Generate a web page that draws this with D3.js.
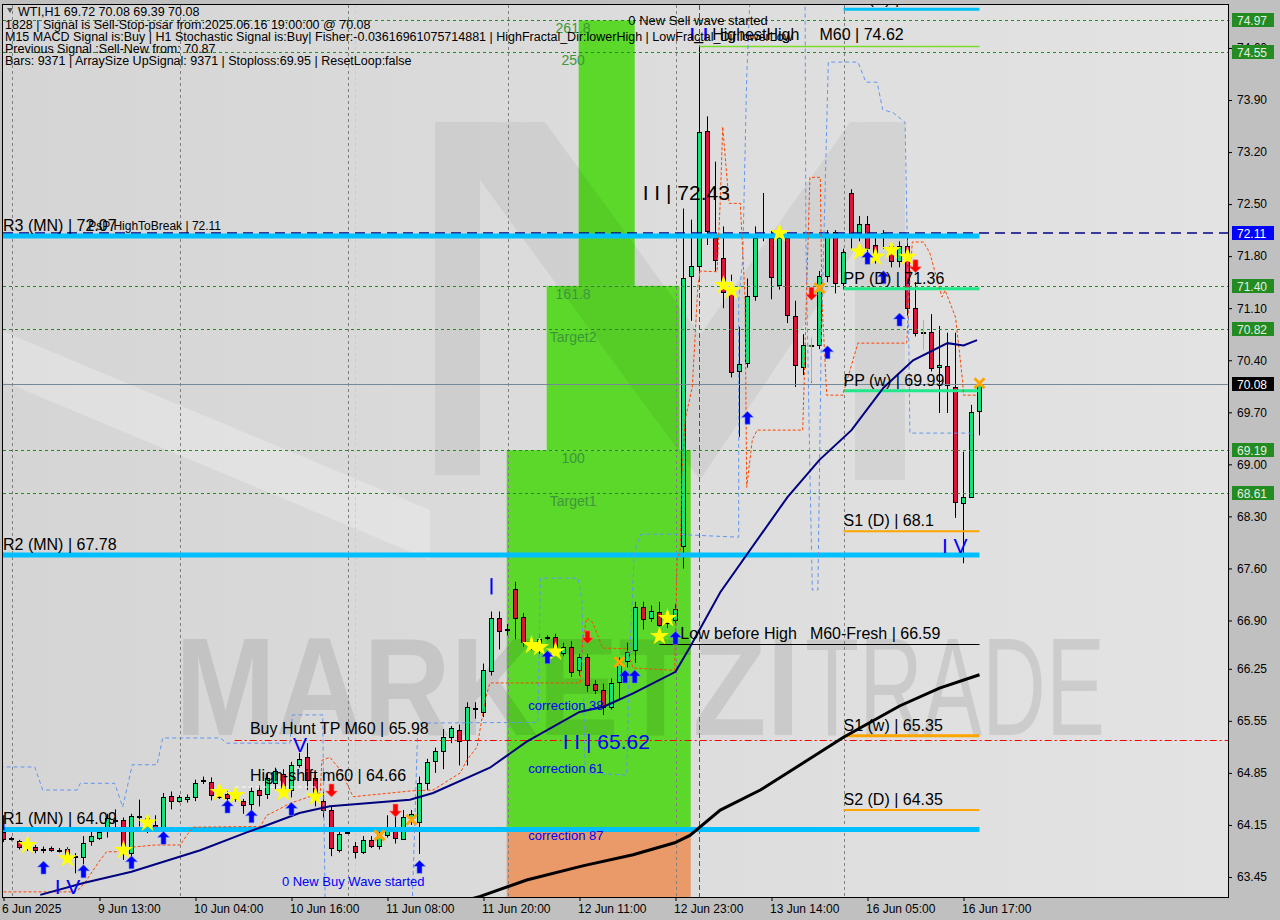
<!DOCTYPE html>
<html><head><meta charset="utf-8">
<script src="https://cdn.jsdelivr.net/npm/d3@7/dist/d3.min.js"></script>
<style>
html,body{margin:0;padding:0;background:#c0c0c0;}
svg{display:block;font-family:"Liberation Sans",Arial,sans-serif;}
</style></head><body>
<svg id="chart" width="1280" height="920"></svg>
<script>
// ---------------- DATA ----------------
const openP = [64.05,63.96,63.93,63.85,63.86,63.82,63.84,63.81,63.83,63.73,63.72,63.93,63.98,64.06,64.22,64.22,63.77,64.27,64.25,64.15,
64.11,64.54,64.47,64.50,64.53,64.75,64.73,64.56,64.56,64.51,64.47,64.44,64.62,64.56,64.71,64.83,64.62,64.96,65.06,64.78,
64.47,64.35,63.81,64.05,63.87,63.79,63.95,63.87,64.01,64.08,63.97,64.24,64.20,64.72,65.00,65.14,65.33,65.43,65.29,65.72,
65.67,66.23,66.94,66.78,67.32,66.95,66.58,66.60,66.68,66.68,66.47,66.55,66.23,66.41,66.04,65.97,65.74,66.07,66.35,66.50,
67.08,66.94,67.02,66.86,66.90,67.91,71.53,71.67,73.48,72.04,71.78,71.32,70.26,70.36,71.26,72.08,72.04,71.42,72.04,71.00,
70.31,70.60,70.60,71.53,72.12,71.43,72.65,72.11,72.23,71.95,72.11,71.93,71.73,71.94,71.10,70.77,70.78,70.31,70.32,70.04,
68.48,68.56,69.72];
const highP = [64.12,63.99,63.95,63.88,63.88,63.86,63.86,63.84,63.85,63.77,64.00,64.09,64.12,64.30,64.36,64.25,64.30,64.49,64.28,64.28,
64.58,64.60,64.55,64.56,64.76,64.80,64.79,64.60,64.60,64.55,64.50,64.66,64.68,64.85,64.92,64.90,65.00,65.12,65.25,64.85,
64.60,64.40,64.10,64.07,63.92,64.00,64.00,64.08,64.28,64.28,64.35,64.35,64.80,65.04,65.19,65.44,65.48,65.50,65.80,65.80,
66.32,67.02,67.02,66.85,67.42,67.00,66.68,66.72,66.70,66.72,66.60,66.62,66.45,66.45,66.10,66.05,66.12,66.40,66.60,67.15,
67.15,67.10,67.15,67.05,67.12,72.44,72.29,74.62,73.68,73.07,72.20,71.55,70.85,71.50,72.20,72.65,72.15,72.20,72.10,71.20,
70.75,70.70,71.60,72.15,72.15,71.90,72.70,72.34,72.34,72.10,72.15,72.00,72.00,72.10,71.45,70.85,71.02,70.86,70.77,70.77,
69.17,69.80,70.08];
const lowP = [63.92,63.94,63.82,63.80,63.77,63.77,63.79,63.78,63.68,63.50,63.62,63.87,63.95,63.98,64.12,63.68,63.70,64.13,64.04,64.10,
64.08,64.36,64.45,64.45,64.47,64.70,64.48,64.50,64.45,64.46,64.30,64.35,64.40,64.50,64.62,64.55,64.52,64.92,64.62,64.40,
64.25,63.73,63.78,64.03,63.70,63.76,63.84,63.82,63.98,63.90,63.95,64.15,63.76,64.62,64.85,64.90,65.25,64.95,64.95,65.58,
65.60,66.16,66.51,66.70,66.65,66.55,66.50,66.45,66.64,66.45,66.42,66.14,66.16,65.94,65.91,65.63,65.70,65.85,66.27,66.33,
66.78,66.88,66.80,66.80,66.86,67.60,70.93,71.60,71.95,71.60,71.10,70.17,69.37,70.30,71.20,72.00,71.22,71.35,70.90,70.04,
70.20,70.10,70.55,71.45,71.30,71.35,71.90,72.00,71.76,71.70,71.90,71.65,71.65,71.00,70.72,70.70,70.25,69.69,69.69,68.28,
67.67,68.55,69.39];
const closeP = [63.95,63.97,63.85,63.84,63.82,63.82,63.81,63.81,63.72,63.72,63.91,64.00,64.06,64.24,64.22,63.77,64.27,64.27,64.24,64.11,
64.53,64.47,64.53,64.53,64.72,64.75,64.55,64.52,64.51,64.51,64.42,64.61,64.55,64.78,64.87,64.62,64.96,65.04,64.75,64.49,
64.35,63.84,64.03,64.05,63.79,63.95,63.87,64.04,64.08,63.97,64.26,64.30,64.72,65.00,65.14,65.33,65.45,65.28,65.74,65.71,
66.23,66.94,66.76,66.76,66.93,66.61,66.62,66.65,66.68,66.48,66.55,66.22,66.41,66.03,65.96,65.74,66.06,66.31,66.47,67.08,
66.92,67.03,66.84,66.97,67.05,71.51,71.67,73.47,72.13,71.75,71.32,70.24,70.35,71.26,72.04,72.10,71.52,72.05,71.00,70.34,
70.60,70.60,71.53,72.10,71.43,71.85,72.11,72.23,71.91,71.79,72.10,71.73,71.93,71.10,70.77,70.78,70.30,70.34,70.07,68.49,
68.56,69.70,70.08];

const yTickValues = [74.60,73.90,73.20,72.50,71.80,71.10,70.40,69.70,69.00,68.30,67.60,66.90,66.25,65.55,64.85,64.15,63.45];
const timeTickBars = [0,12,24,36,48,60,72,84,96,108,120];
const timeTickLabels = ["6 Jun 2025","9 Jun 13:00","10 Jun 04:00","10 Jun 16:00","11 Jun 08:00","11 Jun 20:00",
  "12 Jun 11:00","12 Jun 23:00","13 Jun 14:00","16 Jun 05:00","16 Jun 17:00"];

// indicator lines: [bar, price]
const maFast = [[4.6,63.21],[10,63.37],[16,63.52],[24.6,63.81],[30.4,64.05],[33,64.15],[37,64.31],[40.8,64.40],[50.8,64.49],
  [53.7,64.58],[60.8,64.92],[65.4,65.27],[72,65.67],[75,65.74],[78.7,65.92],[84,66.21],[85.8,66.54],[89.6,67.28],[98,68.56],
  [102,69.06],[106,69.46],[110,70.03],[113.7,70.40],[118,70.63],[120,70.60],[121.7,70.67]];
const maSlow = [[55,63.05],[59.6,63.19],[65.4,63.41],[72.4,63.60],[78.7,63.75],[83.9,63.91],[85.8,64.01],[89.6,64.35],
  [94.6,64.62],[99.6,64.96],[105,65.33],[112,65.75],[117,65.99],[122,66.17]];
const trailStop = [[0,63.25],[8.9,63.25],[9.6,63.30],[10.4,63.41],[11.2,63.54],[12.1,63.68],[12.9,63.79],[14.2,63.79],[14.9,63.84],
  [18.9,63.88],[22.1,63.88],[22.9,64.01],[23.7,64.12],[32.1,64.13],[32.9,64.28],[33.7,64.32],[35.8,64.44],[39.6,64.58],[39.8,65.02],
  [40.8,65.06],[42.1,64.89],[43.7,64.53],[51.2,64.61],[53.7,64.62],[57.1,64.85],[57.9,65.02],[59.2,65.20],[60.2,65.83],[60.8,66.06],
  [72.1,66.06],[72.4,66.64],[72.9,66.93],[73.6,66.88],[74.9,66.53],[77.9,66.52],[78.7,66.26],[83.9,66.23],[84.2,67.71],[84.6,67.85],
  [84.8,68.86],[85.2,69.60],[86.1,70.04],[86.8,71.40],[87.1,71.60],[89.2,71.59],[89.6,72.56],[89.9,73.54],[90.7,72.51],[92.1,72.51],
  [92.7,71.21],[92.9,68.69],[93.6,69.33],[94.2,69.46],[99.9,69.46],[100.1,70.17],[100.4,71.38],[100.8,72.86],[102.1,72.86],
  [102.3,71.21],[102.9,69.93],[104.9,69.93],[106.8,70.63],[112.9,70.63],[113.3,71.48],[113.6,71.99],[115,71.99],[115.8,71.84],
  [117.3,71.25],[117.7,71.34],[119,70.98],[119.9,70.11],[120,69.93],[121.8,69.93]];
const fractalBandA = [[-0.5,64.93],[3.9,64.93],[4.9,64.62],[9.2,64.62],[9.6,64.71],[13.9,64.71],[14.9,64.39],[16.1,64.96],[19.2,64.96],
  [19.9,65.32],[27.1,65.32],[27.9,65.25],[35.8,65.25],[36.1,65.63],[39.9,65.63],[40.2,63.10]];
const fractalBandB = [[51.1,63.10],[51.8,65.52],[66.8,65.53],[67.1,67.47],[71.8,67.47],[72.3,67.18],[72.7,64.85],[77.9,64.82],
  [78.2,66.23],[78.8,67.71],[79.1,67.91],[79.7,68.06],[83.7,68.06],[91.9,68.02],[91.9,71.21],[92.4,71.75],[92.9,74.21],[93.3,75.25]];
const fractalBandC = [[100.2,75.25],[100.3,72.02],[100.8,68.92],[101.1,67.31],[101.8,67.31],[102.2,70.54],[103.1,74.41],[106.8,74.41],
  [107.8,74.14],[109.2,74.14],[109.9,73.77],[111.2,73.73],[112.7,73.60],[113.1,71.21],[113.3,69.42],[120.8,69.42],[121,69.33]];

// markers: [bar, price]
const starMarks = [[3,63.88],[8,63.70],[15,63.81],[18,64.18],[27,64.59],[29,64.55],[35,64.59],[39,64.53],[66,66.57],[67,66.54],
  [69,66.48],[82,66.69],[83,66.93],[90,71.41],[91,71.34],[97,72.11],[107,71.86],[109,71.79],[111,71.88],[113,71.79]];
const buyArrows = [[5,63.57],[10,63.52],[16,63.64],[20,63.97],[28,64.39],[31,64.26],[36,64.36],[52,63.58],[68,66.40],[77.7,66.14],
  [78.9,66.14],[84,66.66],[93,69.62],[103,70.50],[108,71.77],[110,71.51],[112,70.94]];
const sellArrows = [[41,64.62],[49,64.35],[73,66.68],[101,71.30],[114,71.67]];
const crossMarks = [[47,64.01],[51,64.22],[77,66.34],[102,71.37],[122,70.09]];
const greenTicks = [[101,70.70,70.11,70.59],[115,70.94,70.54,70.80]];

// levels
const greenDashLevels = [74.97,74.55,71.40,70.82,69.19,68.61];
const monthlyNames = ["R3 (MN)","R2 (MN)","R1 (MN)"];
const monthlyValues = [72.07,67.78,64.09];
const pivotNames = ["R1 (D)","PP (D)","PP (w)","S1 (D)","S1 (w)","S2 (D)"];
const pivotValues = [75.12,71.36,69.99,68.1,65.35,64.35];
const pivotColors = ["#00bfff","#1ee88a","#1ee88a","#ffa500","#ffa500","#ffa500"];
const pivotWidths = [3,3,3,2,3,2];
const lastPrice = 70.08, psarBreak = 72.11, highestHigh = 74.62, lowBeforeHigh = 66.59;
const buyHuntTP = 65.98, buyHuntLine = 65.29, highShift = 64.66;

// fib target zones: [barStart, barEnd, priceLow, priceHigh]
const zoneGreen = [[62.9,85.9,64.11,69.19],[67.9,84.5,69.19,71.40],[71.9,78.9,71.40,74.97]];
const zoneOrange = [[62.9,85.9,62.0,64.11]];
const fibNames = ["261.8","250","161.8","Target2","100","Target1"];
const fibLevels = [74.97,74.55,71.40,70.82,69.19,68.61];
const corrNames = ["correction 38","correction 61","correction 87"];
const corrPrices = [65.70,64.85,63.95];

const gridBars = [1,22,43,63,84,105];
const axisHighlights = [[74.97,"#228b22","#e4f0e4"],[74.55,"#228b22","#e4f0e4"],[72.11,"#0000ff","#ffffff"],[71.40,"#228b22","#e4f0e4"],
  [70.82,"#228b22","#e4f0e4"],[70.08,"#000000","#ffffff"],[69.19,"#228b22","#e4f0e4"],[68.61,"#228b22","#e4f0e4"]];

const headerLines = ["WTI,H1  69.72 70.08 69.39 70.08",
 "1828 | Signal is Sell-Stop-psar from:2025.06.16 19:00:00 @ 70.08",
 "M15 MACD Signal is:Buy | H1 Stochastic Signal is:Buy| Fisher:-0.03616961075714881 | HighFractal_Dir:lowerHigh | LowFractal_Dir:lowerLow",
 "Previous Signal :Sell-New from: 70.87",
 "Bars: 9371 | ArraySize UpSignal: 9371 | Stoploss:69.95 | ResetLoop:false"];

// ---------------- DRAW ----------------
const svg = d3.select("#chart");
const P = {l:3, t:5, r:1228, b:897};
const x = d3.scaleLinear().domain([0,153]).range([3.5,1227.5]);
const y = d3.scaleLinear().domain([63.45,73.90]).range([877,100]);

const defs = svg.append("defs");
defs.append("clipPath").attr("id","clip").append("rect")
  .attr("x",P.l).attr("y",P.t).attr("width",P.r-P.l).attr("height",P.b-P.t);
const lg = defs.append("linearGradient").attr("id","bg").attr("x1","0").attr("x2","1").attr("y1","0").attr("y2","0");
lg.append("stop").attr("offset","0").attr("stop-color","#d5d5d5");
lg.append("stop").attr("offset","1").attr("stop-color","#e3e3e3");

svg.append("rect").attr("width",1280).attr("height",920).attr("fill","#c0c0c0");
svg.append("rect").attr("x",P.l).attr("y",P.t).attr("width",P.r-P.l).attr("height",P.b-P.t).attr("fill","url(#bg)");

const g = svg.append("g").attr("clip-path","url(#clip)");

// zones
g.selectAll("rect.zg").data(zoneGreen).join("rect").attr("class","zg")
  .attr("x",d=>x(d[0])).attr("width",d=>x(d[1])-x(d[0]))
  .attr("y",d=>y(d[3])).attr("height",d=>y(d[2])-y(d[3])).attr("fill","#5bd82a");
g.selectAll("rect.zo").data(zoneOrange).join("rect").attr("class","zo")
  .attr("x",d=>x(d[0])).attr("width",d=>x(d[1])-x(d[0]))
  .attr("y",d=>y(d[3])).attr("height",d=>y(d[2])-y(d[3])).attr("fill","#e99a68");

// decorative logo watermark
const logo = [[435,122],[545,122],[700,335],[850,122],[905,122],[905,480],[855,480],[855,250],[700,480],[480,180],[480,475],[435,475]];
g.append("path").attr("d",d3.line()(logo)+"Z").attr("fill","rgba(0,0,0,0.05)");
g.append("path").attr("d",d3.line()([[0,330],[0,380],[430,560],[430,510]])+"Z").attr("fill","rgba(255,255,255,0.25)");
g.append("text").attr("x",175).attr("y",735).attr("font-size",140).attr("font-weight","bold")
  .attr("textLength",625).attr("lengthAdjust","spacingAndGlyphs").attr("fill","rgba(0,0,0,0.09)").text("MARKETZI");
g.append("text").attr("x",805).attr("y",735).attr("font-size",140).attr("font-weight","normal")
  .attr("textLength",300).attr("lengthAdjust","spacingAndGlyphs").attr("fill","rgba(0,0,0,0.09)").text("TRADE");

// fib labels
g.selectAll("text.fib").data(fibNames).join("text").attr("class","fib")
  .attr("x",x(71.2)).attr("y",(d,i)=>y(fibLevels[i])+13).attr("text-anchor","middle")
  .attr("font-size",14).attr("fill","#3c963c").text(d=>d);

// grid verticals
g.selectAll("line.vg").data(gridBars).join("line").attr("class","vg")
  .attr("x1",d=>Math.round(x(d))+0.5).attr("x2",d=>Math.round(x(d))+0.5).attr("y1",P.t).attr("y2",P.b)
  .attr("stroke","#808080").attr("stroke-dasharray","3,3");
g.append("line").attr("x1",x(44)).attr("x2",x(44)).attr("y1",P.t).attr("y2",P.b)
  .attr("stroke","#a8d8ea").attr("stroke-dasharray","3,3");
g.append("line").attr("x1",x(87)).attr("x2",x(87)).attr("y1",P.t).attr("y2",P.b)
  .attr("stroke","#dc143c").attr("stroke-dasharray","5,3");

// candles
const candles = d3.range(openP.length).map(i=>({i,o:openP[i],h:highP[i],l:lowP[i],c:closeP[i]}));
g.selectAll("line.wick").data(candles).join("line").attr("class","wick")
  .attr("x1",d=>x(d.i)).attr("x2",d=>x(d.i)).attr("y1",d=>y(d.h)).attr("y2",d=>y(d.l)).attr("stroke","#000");
g.selectAll("rect.body").data(candles).join("rect").attr("class","body")
  .attr("x",d=>x(d.i)-2).attr("width",4)
  .attr("y",d=>Math.round(y(Math.max(d.o,d.c)))+0.5)
  .attr("height",d=>Math.max(1,Math.round(Math.abs(y(d.o)-y(d.c)))))
  .attr("fill",d=>d.c>=d.o?"#14e27a":"#dc143c").attr("stroke","#000");

// green dashed levels
g.selectAll("line.gd").data(greenDashLevels).join("line").attr("class","gd")
  .attr("x1",P.l).attr("x2",P.r).attr("y1",d=>Math.round(y(d))+0.5).attr("y2",d=>Math.round(y(d))+0.5)
  .attr("stroke","#228b22").attr("stroke-dasharray","3,3");
// last price line
g.append("line").attr("x1",P.l).attr("x2",P.r).attr("y1",Math.round(y(lastPrice))+0.5).attr("y2",Math.round(y(lastPrice))+0.5)
  .attr("stroke","#778899");
// psar high to break
g.append("line").attr("x1",P.l).attr("x2",P.r).attr("y1",y(psarBreak)).attr("y2",y(psarBreak))
  .attr("stroke","#00008b").attr("stroke-width",1.5).attr("stroke-dasharray","10,6");
// monthly lines
g.selectAll("line.mn").data(monthlyValues).join("line").attr("class","mn")
  .attr("x1",P.l).attr("x2",x(122)).attr("y1",d=>y(d)).attr("y2",d=>y(d))
  .attr("stroke","#00bfff").attr("stroke-width",5);
// pivots
g.selectAll("line.pv").data(pivotValues).join("line").attr("class","pv")
  .attr("x1",x(105)).attr("x2",x(122)).attr("y1",d=>y(d)).attr("y2",d=>y(d))
  .attr("stroke",(d,i)=>pivotColors[i]).attr("stroke-width",(d,i)=>pivotWidths[i]);
// highest high, low before high, buy hunt, high shift
g.append("line").attr("x1",x(87)).attr("x2",x(122)).attr("y1",y(highestHigh)).attr("y2",y(highestHigh))
  .attr("stroke","#7cdc2c").attr("stroke-width",1.5);
g.append("line").attr("x1",x(82)).attr("x2",x(122)).attr("y1",Math.round(y(lowBeforeHigh))+0.5).attr("y2",Math.round(y(lowBeforeHigh))+0.5)
  .attr("stroke","#000");
g.append("line").attr("x1",x(28.9)).attr("x2",P.r).attr("y1",Math.round(y(buyHuntLine))+0.5).attr("y2",Math.round(y(buyHuntLine))+0.5)
  .attr("stroke","#ff0000").attr("stroke-dasharray","7,3,2,3");
g.append("line").attr("x1",x(28.9)).attr("x2",x(39)).attr("y1",y(highShift)).attr("y2",y(highShift))
  .attr("stroke","#ffffff").attr("stroke-dasharray","4,3");

// indicator lines
const ln = d3.line().x(d=>x(d[0])).y(d=>y(d[1]));
[fractalBandA,fractalBandB,fractalBandC].forEach(s=>{
  g.append("path").attr("d",ln(s)).attr("fill","none").attr("stroke","#6495ed").attr("stroke-dasharray","4,3");
});
g.append("path").attr("d",ln(trailStop)).attr("fill","none").attr("stroke","#ff4500").attr("stroke-dasharray","3,2");
g.append("path").attr("d",ln(maSlow)).attr("fill","none").attr("stroke","#000").attr("stroke-width",3);
g.append("path").attr("d",ln(maFast)).attr("fill","none").attr("stroke","#000080").attr("stroke-width",2);

// green ticks
greenTicks.forEach(t=>{
  g.append("line").attr("x1",x(t[0])).attr("x2",x(t[0])).attr("y1",y(t[1])).attr("y2",y(t[2])).attr("stroke","#7ad84a");
  g.append("line").attr("x1",x(t[0])-3).attr("x2",x(t[0])).attr("y1",y(t[3])).attr("y2",y(t[3])).attr("stroke","#7ad84a");
});

// markers
const star = d3.symbol(d3.symbolStar).size(115);
g.selectAll("path.star").data(starMarks).join("path").attr("class","star")
  .attr("transform",d=>`translate(${x(d[0])},${y(d[1])})`).attr("d",star).attr("fill","#ffff00");
const upArrow = "M0,-7L6,-1L2.5,-1L2.5,6L-2.5,6L-2.5,-1L-6,-1Z";
g.selectAll("path.ua").data(buyArrows).join("path").attr("class","ua")
  .attr("transform",d=>`translate(${x(d[0])},${y(d[1])})`).attr("d",upArrow)
  .attr("fill","#0000ff").attr("stroke","#6a8cff").attr("stroke-width",0.6);
g.selectAll("path.da").data(sellArrows).join("path").attr("class","da")
  .attr("transform",d=>`translate(${x(d[0])},${y(d[1])}) scale(1,-1)`).attr("d",upArrow)
  .attr("fill","#ff0000").attr("stroke","#ff8080").attr("stroke-width",0.6);
g.selectAll("path.xm").data(crossMarks).join("path").attr("class","xm")
  .attr("transform",d=>`translate(${x(d[0])},${y(d[1])})`).attr("d","M-5,-5L5,5M-5,5L5,-5")
  .attr("stroke","#ffa500").attr("stroke-width",3);

// blue I marks
g.append("line").attr("x1",x(0)).attr("x2",x(0)).attr("y1",y(64.28)).attr("y2",y(64.08)).attr("stroke","#0000ff").attr("stroke-width",2);
g.append("line").attr("x1",x(61)).attr("x2",x(61)).attr("y1",y(67.47)).attr("y2",y(67.25)).attr("stroke","#0000ff").attr("stroke-width",2);

// texts
const T = (txt,bx,py,size,color,anchor)=>g.append("text").attr("x",x(bx)).attr("y",y(py))
   .attr("font-size",size).attr("fill",color||"#000").attr("text-anchor",anchor||"start").text(txt);
g.selectAll("text.mn").data(monthlyValues).join("text").attr("class","mn")
  .attr("x",P.l).attr("y",d=>y(d)-5).attr("font-size",16).text((d,i)=>`${monthlyNames[i]} | ${d.toFixed(2)}`);
g.selectAll("text.pv").data(pivotValues).join("text").attr("class","pv")
  .attr("x",x(105)).attr("y",d=>y(d)-5).attr("font-size",16).text((d,i)=>`${pivotNames[i]} | ${d}`);
g.append("text").attr("x",x(10.6)).attr("y",y(psarBreak)-3).attr("font-size",12).text(`PsP HighToBreak | ${psarBreak}`);
g.append("text").attr("x",x(30.8)).attr("y",y(buyHuntLine)-6).attr("font-size",16).text(`Buy Hunt TP M60 | ${buyHuntTP}`);
g.append("text").attr("x",x(30.8)).attr("y",y(highShift)-6).attr("font-size",16).text(`High-shift m60 | ${highShift}`);
g.append("text").attr("x",x(84.6)).attr("y",y(lowBeforeHigh)-5).attr("font-size",16).text("Low before High");
g.append("text").attr("x",x(100.8)).attr("y",y(lowBeforeHigh)-5).attr("font-size",16).text(`M60-Fresh | ${lowBeforeHigh}`);
const hh = g.append("text").attr("x",x(85.8)).attr("y",y(highestHigh)-6).attr("font-size",16);
hh.append("tspan").attr("fill","#0000ff").attr("font-weight","bold").text("I");
hh.append("tspan").text("_");
hh.append("tspan").attr("fill","#0000ff").attr("font-weight","bold").text("I");
hh.append("tspan").text(" HighestHigh");
g.append("text").attr("x",x(102)).attr("y",y(highestHigh)-6).attr("font-size",16).text(`M60 | ${highestHigh}`);
T("0 New Sell wave started",78.1,74.91,13,"#000");
T("0 New Buy Wave started",34.8,63.33,13,"#0000ff");
T("I I | 72.43",79.9,72.56,21,"#000");
T("I I | 65.62",69.9,65.17,21,"#0000ff");
T("I V",117.3,67.81,21,"#0000ff");
T("I V",6.4,63.22,21,"#0000ff");
T("V",36.2,65.13,21,"#0000ff");
g.selectAll("text.corr").data(corrNames).join("text").attr("class","corr")
  .attr("x",x(65.6)).attr("y",(d,i)=>y(corrPrices[i])).attr("font-size",13).attr("fill","#0000ff").text(d=>d);

// frame
svg.append("rect").attr("x",P.l-0.5).attr("y",P.t-0.5).attr("width",P.r-P.l+1).attr("height",P.b-P.t+1)
  .attr("fill","none").attr("stroke","#000");

// axes
const ya = svg.append("g").attr("transform",`translate(${P.r},0)`)
  .call(d3.axisRight(y).tickValues(yTickValues).tickSize(4).tickPadding(5).tickFormat(d3.format(".2f")));
ya.select(".domain").remove();
ya.selectAll("text").attr("font-size",12).attr("font-family","Liberation Sans, Arial, sans-serif").attr("fill","#000");
ya.selectAll("line").attr("stroke","#000");
const xa = svg.append("g").attr("transform",`translate(0,${P.b})`)
  .call(d3.axisBottom(x).tickValues(timeTickBars).tickSize(4).tickFormat((d,i)=>timeTickLabels[i]));
xa.select(".domain").remove();
xa.selectAll("text").attr("font-size",12).attr("font-family","Liberation Sans, Arial, sans-serif")
  .attr("text-anchor","start").attr("x",-2).attr("fill","#000");
xa.selectAll("line").attr("stroke","#000");

// highlighted price labels
const hl = svg.selectAll("g.hl").data(axisHighlights).join("g").attr("class","hl")
  .attr("transform",d=>`translate(1232,${Math.round(y(d[0]))})`);
hl.append("rect").attr("x",0).attr("y",-7).attr("width",42).attr("height",14).attr("fill",d=>d[1]);
hl.append("text").attr("x",5).attr("y",4.5).attr("font-size",12).attr("fill",d=>d[2]).text(d=>d[0].toFixed(2));

// header
svg.append("path").attr("d","M7,8L13,8L10,13Z").attr("fill","#555");
svg.selectAll("text.hdr").data(headerLines).join("text").attr("class","hdr")
  .attr("x",(d,i)=>i===0?18:5).attr("y",(d,i)=>i===0?16:17+i*12).attr("font-size",12.5).attr("fill","#000").text(d=>d);
</script>
</body></html>
